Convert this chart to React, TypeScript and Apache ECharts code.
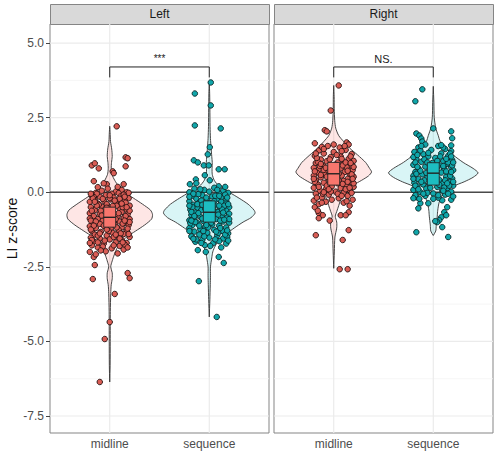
import React, { useEffect, useRef } from "react";
import * as echarts from "echarts";

// ---------- data ----------
const facets = ["Left", "Right"];
const categories = ["midline", "sequence"];
const yTicks = [-7.5, -5, -2.5, 0, 2.5, 5];
const yMinorTicks = [-6.25, -3.75, -1.25, 1.25, 3.75];
const sigLabels = ["***", "NS."];
const bracketTop = [4.2, 4.2];
const bracketTip = [3.85, 3.85];

// box stats: [q1, median, q3]
const leftMidlineBox = [-1.17, -0.84, -0.5];
const leftSequenceBox = [-1.0, -0.67, -0.29];
const rightMidlineBox = [0.24, 0.62, 1.0];
const rightSequenceBox = [0.24, 0.64, 0.99];

// violin outlines: [value, half width in category units]
const leftMidlineViolin = [
  [2.21, 0], [2.0, 0.004], [1.7, 0.008], [1.45, 0.02], [1.2, 0.025], [1.0, 0.018], [0.8, 0.015],
  [0.6, 0.022], [0.4, 0.05], [0.2, 0.09], [0.0, 0.15], [-0.2, 0.24], [-0.4, 0.33], [-0.6, 0.41],
  [-0.75, 0.43], [-0.9, 0.42], [-1.1, 0.35], [-1.3, 0.26], [-1.5, 0.17], [-1.7, 0.11], [-1.9, 0.07],
  [-2.1, 0.045], [-2.3, 0.025], [-2.5, 0.01], [-2.7, 0.025], [-2.9, 0.025], [-3.1, 0.015],
  [-3.4, 0.01], [-4.0, 0.006], [-5.0, 0.005], [-5.8, 0.004], [-6.36, 0],
];
const leftSequenceViolin = [
  [3.68, 0], [3.3, 0.004], [2.8, 0.006], [2.2, 0.008], [1.8, 0.012], [1.5, 0.018], [1.2, 0.025],
  [1.0, 0.03], [0.8, 0.028], [0.6, 0.03], [0.4, 0.05], [0.2, 0.1], [0.0, 0.2], [-0.2, 0.3],
  [-0.4, 0.39], [-0.6, 0.45], [-0.7, 0.46], [-0.85, 0.42], [-1.0, 0.34], [-1.2, 0.25], [-1.4, 0.17],
  [-1.6, 0.1], [-1.8, 0.06], [-2.0, 0.035], [-2.2, 0.025], [-2.5, 0.012], [-2.8, 0.012],
  [-3.1, 0.01], [-3.6, 0.006], [-4.18, 0],
];
const rightMidlineViolin = [
  [3.58, 0], [3.2, 0.004], [2.8, 0.005], [2.4, 0.01], [2.15, 0.02], [1.9, 0.05], [1.7, 0.1],
  [1.48, 0.16], [1.25, 0.24], [1.0, 0.32], [0.8, 0.36], [0.68, 0.38], [0.55, 0.35], [0.4, 0.28],
  [0.25, 0.2], [0.12, 0.14], [0.0, 0.11], [-0.2, 0.075], [-0.45, 0.05], [-0.65, 0.03],
  [-0.8, 0.015], [-1.0, 0.03], [-1.2, 0.03], [-1.5, 0.012], [-2.0, 0.006], [-2.55, 0],
];
const rightSequenceViolin = [
  [3.55, 0], [3.0, 0.006], [2.5, 0.01], [2.15, 0.025], [1.9, 0.05], [1.7, 0.07], [1.5, 0.12],
  [1.25, 0.2], [1.0, 0.3], [0.8, 0.4], [0.65, 0.45], [0.5, 0.4], [0.35, 0.31], [0.2, 0.2],
  [0.0, 0.11], [-0.33, 0.06], [-0.6, 0.045], [-0.8, 0.04], [-1.1, 0.03], [-1.3, 0.025], [-1.45, 0],
];

// jittered points: [jitter offset, value]
const leftMidlinePoints = [
  [0.07, 2.21], [0.16, 1.17], [0.18, 1.14], [0.16, 0.87], [-0.18, 0.9], [-0.15, 0.97], [-0.11, 0.8],
  [0.03, 0.7], [0.04, 0.64], [-0.16, 0.37], [-0.12, 0.17], [-0.03, 0.27], [0.14, 0.27], [0.1, 0.1],
  [-0.2, -2.0], [-0.16, -2.17], [-0.15, -2.44], [-0.17, -2.91], [0.18, -2.71], [0.2, -2.88],
  [0.05, -3.41], [0.0, -4.35], [-0.05, -4.92], [-0.1, -6.36],
  [-0.08, 0.05], [0.06, 0.02], [0.12, 0.08], [-0.02, 0.12], [0.17, 0.0], [-0.14, -0.02], [0.02, -0.05], [0.09, -0.03],
  [-0.18, -0.12], [-0.1, -0.15], [-0.04, -0.1], [0.04, -0.18], [0.11, -0.14], [0.19, -0.2], [-0.15, -0.25],
  [-0.06, -0.28], [0.01, -0.24], [0.08, -0.3], [0.15, -0.27], [-0.2, -0.32],
  [-0.12, -0.38], [-0.03, -0.4], [0.06, -0.36], [0.13, -0.42], [0.2, -0.45], [-0.19, -0.5], [-0.08, -0.48],
  [0.0, -0.52], [0.1, -0.55], [0.17, -0.58], [-0.15, -0.6], [-0.05, -0.58],
  [0.03, -0.64], [0.12, -0.66], [-0.2, -0.7], [-0.1, -0.72], [0.18, -0.74], [-0.16, -0.8], [0.08, -0.8],
  [-0.04, -0.84], [0.14, -0.86], [0.2, -0.9], [-0.12, -0.9], [-0.2, -0.88],
  [-0.07, -0.95], [0.1, -0.98], [0.16, -1.02], [-0.17, -1.0], [-0.1, -1.06], [0.05, -1.08], [0.19, -1.1],
  [-0.2, -1.14], [-0.05, -1.15], [0.12, -1.18], [-0.14, -1.2], [0.01, -1.22],
  [0.09, -1.26], [0.17, -1.3], [-0.18, -1.3], [-0.09, -1.33], [0.03, -1.36], [0.14, -1.4], [-0.15, -1.42],
  [-0.03, -1.45], [0.08, -1.48], [0.2, -1.5], [-0.19, -1.52],
  [-0.1, -1.55], [0.0, -1.58], [0.12, -1.6], [-0.16, -1.65], [0.06, -1.68], [0.17, -1.7], [-0.06, -1.72],
  [-0.18, -1.78], [0.1, -1.8], [-0.12, -1.85], [0.02, -1.88], [0.14, -1.92], [-0.04, -1.98], [0.08, -2.05],
  [-0.14, -2.08],
  [-0.13, -0.05], [0.0, -0.2], [0.16, -0.35], [-0.09, -0.62], [0.06, -0.9], [-0.18, -1.6], [0.13, -0.5],
  [-0.01, -1.3], [0.18, -1.22], [-0.11, -0.42], [0.1, -0.22], [-0.19, -0.95], [0.04, -1.5], [-0.07, -1.82],
  [0.15, -1.75], [0.2, -0.62], [-0.16, -0.16], [0.07, -0.45], [-0.06, -1.12], [0.11, -1.38], [-0.12, -1.68],
  [0.19, -0.02], [-0.02, -0.66], [0.14, -0.08],
  [-0.17, -0.2], [-0.07, -0.22], [0.05, -0.28], [0.15, -0.15], [-0.13, -0.45], [0.03, -0.46], [0.17, -0.5],
  [-0.18, -0.62], [0.09, -0.7], [-0.08, -0.78], [0.16, -0.8], [-0.14, -0.98], [0.02, -1.0], [0.13, -1.05],
  [-0.03, -1.25], [-0.16, -1.12], [0.07, -1.18], [0.19, -1.4], [-0.12, -1.45], [0.1, -1.55], [-0.05, -1.62],
  [-0.2, -1.7], [0.04, -1.78], [0.18, -1.85], [-0.09, -1.95], [-0.19, -0.05], [0.08, 0.18], [-0.06, 0.3],
  [0.12, -0.38], [-0.03, -0.52], [0.2, -1.0], [-0.1, -1.38], [0.13, -1.68], [-0.15, -0.32], [0.06, -1.42],
  [-0.01, -0.95], [0.15, -0.95], [-0.19, -1.25], [0.0, -0.1],
];
const leftSequencePoints = [
  [0.015, 3.68], [-0.145, 3.31], [0.015, 2.91], [-0.145, 2.24], [0.115, 2.14], [0.005, 1.51], [-0.015, 1.27],
  [-0.155, 1.07], [-0.115, 1.0], [-0.055, 0.9], [-0.005, 0.9], [0.095, 0.77], [0.155, 0.77], [-0.135, 0.43],
  [-0.045, 0.57], [0.005, 0.4], [-0.195, 0.27], [0.095, 0.2],
  [-0.105, -2.98], [0.095, -2.17], [0.145, -2.37], [0.075, -4.18], [-0.115, -1.94], [-0.045, -1.77], [-0.035, -2.0],
  [-0.15, 0.12], [-0.05, 0.08], [0.05, 0.15], [0.14, 0.05], [-0.2, 0.0], [-0.1, -0.03], [0.0, 0.02], [0.1, -0.05],
  [0.19, -0.02], [-0.17, -0.12], [-0.07, -0.1], [0.03, -0.14], [0.12, -0.18], [-0.13, -0.22], [-0.02, -0.25],
  [0.08, -0.22], [0.17, -0.28], [-0.2, -0.3], [-0.1, -0.34], [0.0, -0.36], [0.15, -0.38], [-0.16, -0.42],
  [-0.05, -0.46], [0.06, -0.44], [0.2, -0.5], [-0.12, -0.52], [0.11, -0.55], [-0.19, -0.58], [-0.08, -0.6],
  [0.17, -0.62], [-0.14, -0.68], [0.08, -0.66], [0.2, -0.72], [-0.03, -0.72], [-0.18, -0.76], [0.13, -0.78],
  [-0.09, -0.82], [0.18, -0.85], [-0.15, -0.88], [0.07, -0.9], [-0.2, -0.94], [-0.06, -0.96], [0.14, -0.98],
  [0.2, -1.02], [-0.12, -1.02], [0.03, -1.08], [-0.17, -1.1], [0.1, -1.12], [-0.04, -1.16], [0.17, -1.18],
  [-0.2, -1.2], [-0.09, -1.24], [0.05, -1.26], [0.13, -1.3], [-0.15, -1.32], [-0.02, -1.36], [0.19, -1.38],
  [-0.1, -1.42], [0.08, -1.45], [-0.18, -1.48], [0.0, -1.52], [0.14, -1.55], [-0.07, -1.6], [0.1, -1.64],
  [-0.14, -1.66], [0.04, -1.7], [0.17, -1.72], [-0.2, -0.15], [0.16, -0.08], [-0.04, -0.55], [0.01, -0.85],
  [-0.11, -0.7], [0.12, -0.32], [-0.19, -1.04], [0.09, -1.36], [-0.13, -1.58], [0.06, -0.12], [-0.08, -0.28],
  [0.2, -0.9], [-0.01, -1.18], [0.15, -0.45], [-0.17, -0.5], [0.04, -0.62], [-0.06, -1.3], [0.18, -1.5],
  [-0.11, -0.06], [0.11, -0.95],
  [-0.16, -0.05], [-0.03, -0.18], [0.1, -0.12], [0.18, -0.18], [-0.12, -0.4], [0.03, -0.5], [0.13, -0.58],
  [-0.18, -0.66], [0.09, -0.75], [-0.07, -0.88], [0.15, -0.92], [-0.14, -1.0], [0.02, -1.02], [0.11, -1.2],
  [-0.1, -1.12], [-0.2, -1.3], [0.07, -1.32], [0.16, -1.42], [-0.05, -1.48], [-0.16, -1.56], [0.06, -1.58],
  [0.19, -1.62], [-0.08, -1.7], [0.01, -1.8], [0.12, -1.85], [-0.2, -0.45], [0.19, -0.4], [-0.09, 0.1],
  [0.08, 0.08], [0.16, 0.18], [-0.13, 0.3], [0.05, -0.3], [-0.15, -0.8], [0.18, -1.28], [-0.03, -1.1],
  [0.1, -0.45], [-0.07, -0.42], [0.14, -0.68], [-0.18, -0.95],
];
const rightMidlinePoints = [
  [0.05, 3.58], [-0.03, 2.74], [-0.09, 2.08], [-0.07, 2.04], [-0.19, 1.64], [0.13, 1.67],
  [-0.19, -0.5], [-0.15, -0.7], [-0.11, -0.77], [-0.15, -0.87], [0.15, -0.67], [0.07, -0.77], [0.12, -0.77],
  [-0.18, -1.44], [0.15, -1.27], [0.09, -1.6], [0.06, -2.58], [0.14, -2.58], [-0.16, -0.62], [0.16, -0.45],
  [-0.04, -0.95],
  [-0.06, 1.55], [0.06, 1.5], [-0.15, 1.4], [0.12, 1.42], [0.0, 1.35], [-0.1, 1.3], [0.18, 1.28], [-0.19, 1.22],
  [0.07, 1.2], [-0.03, 1.18], [0.15, 1.12], [-0.13, 1.1], [0.2, 1.05], [-0.07, 1.04], [0.04, 1.0], [-0.18, 0.98],
  [0.1, 0.96], [0.17, 0.9], [-0.11, 0.9], [-0.02, 0.86], [0.13, 0.84], [-0.2, 0.82], [0.07, 0.8], [-0.15, 0.76],
  [0.19, 0.74], [-0.06, 0.72], [0.02, 0.7], [0.11, 0.68], [-0.17, 0.66], [0.16, 0.62], [-0.09, 0.6], [-0.2, 0.56],
  [0.08, 0.56], [0.2, 0.52], [-0.13, 0.5], [0.0, 0.48], [0.14, 0.45], [-0.05, 0.42], [-0.18, 0.4], [0.1, 0.38],
  [0.18, 0.34], [-0.1, 0.32], [0.04, 0.3], [-0.16, 0.26], [0.13, 0.24], [-0.02, 0.2], [0.2, 0.18], [-0.2, 0.15],
  [0.07, 0.14], [-0.08, 0.1], [0.16, 0.08], [-0.14, 0.05], [0.02, 0.02], [0.1, -0.02], [-0.18, -0.05],
  [-0.05, -0.08], [0.14, -0.12], [-0.12, -0.18], [0.05, -0.2], [0.19, -0.25], [-0.2, -0.28], [-0.08, -0.32],
  [0.1, -0.35], [-0.15, -0.4], [0.15, 1.6], [-0.12, 1.52], [0.03, 1.25], [-0.16, 1.02], [0.09, 0.9],
  [-0.04, 0.62], [0.12, 0.1], [-0.1, 0.75], [0.05, 0.4], [-0.19, 0.35], [0.18, 0.6], [-0.03, 0.02], [0.08, 1.12],
  [-0.14, 0.88], [0.2, 0.3], [-0.07, 0.22],
  [-0.1, 1.45], [0.08, 1.38], [0.17, 1.2], [-0.17, 1.15], [-0.04, 1.1], [0.12, 1.0], [-0.13, 0.95], [0.02, 0.92],
  [0.2, 0.85], [-0.08, 0.82], [-0.19, 0.7], [0.14, 0.72], [0.05, 0.62], [-0.13, 0.58], [0.19, 0.45], [-0.03, 0.35],
  [0.09, 0.28], [-0.15, 0.18], [0.16, 0.15], [-0.05, 0.1], [0.04, -0.05], [-0.11, -0.05], [0.18, -0.02],
  [-0.17, -0.18], [0.08, -0.12], [-0.02, -0.25], [0.13, -0.3], [-0.12, -0.35], [0.0, 1.6], [-0.18, 1.3],
  [0.11, 1.55], [-0.07, 0.52], [0.17, 0.98], [-0.2, 0.45], [0.03, 0.52], [0.14, 0.35], [-0.1, 0.0],
];
const rightSequencePoints = [
  [-0.11, 3.45], [-0.18, 3.05], [0.0, 2.14], [0.18, 2.04], [0.19, 1.81], [0.18, 1.57], [-0.17, 1.97],
  [-0.14, 1.9], [-0.12, 1.8], [-0.11, 1.7],
  [-0.17, -0.17], [-0.13, -0.37], [-0.15, -0.54], [-0.05, -0.37], [0.09, -0.27], [0.18, -0.25], [0.14, -0.5],
  [0.11, -0.67], [0.13, -0.77], [0.08, -0.84], [0.06, -0.94], [0.04, -1.0], [-0.17, -1.34], [0.09, -1.17],
  [0.15, -1.5], [0.02, -0.97],
  [-0.08, 1.6], [0.05, 1.55], [-0.15, 1.5], [0.12, 1.45], [-0.02, 1.42], [0.18, 1.38], [-0.19, 1.35], [0.08, 1.3],
  [-0.1, 1.28], [0.15, 1.22], [-0.05, 1.2], [0.02, 1.15], [-0.17, 1.12], [0.19, 1.08], [0.1, 1.05], [-0.12, 1.02],
  [-0.01, 0.98], [0.14, 0.95], [-0.2, 0.92], [0.06, 0.9], [-0.08, 0.86], [0.18, 0.84], [-0.15, 0.8], [0.11, 0.78],
  [0.2, 0.74], [-0.04, 0.72], [-0.18, 0.68], [0.08, 0.66], [0.16, 0.6], [-0.11, 0.6], [-0.2, 0.55], [0.13, 0.52],
  [-0.06, 0.5], [0.19, 0.46], [-0.15, 0.44], [0.06, 0.42], [-0.02, 0.38], [0.16, 0.35], [-0.19, 0.32], [0.1, 0.3],
  [-0.1, 0.26], [0.2, 0.22], [-0.16, 0.2], [0.04, 0.18], [0.14, 0.14], [-0.07, 0.12], [-0.2, 0.08], [0.09, 0.06],
  [0.18, 0.02], [-0.13, 0.0], [0.0, -0.04], [0.12, -0.08], [-0.18, -0.1], [-0.08, -0.12], [0.2, -0.14],
  [0.05, -0.18], [-0.14, -0.22], [0.15, 1.0], [-0.13, 1.4], [0.03, 0.8], [0.17, 0.55], [-0.09, 0.4], [0.11, 0.16],
  [-0.17, 0.62], [0.07, 1.2], [-0.04, 0.28], [0.19, 0.9], [-0.2, 1.18], [0.13, 0.7], [-0.06, -0.02],
  [-0.12, 1.55], [0.1, 1.5], [0.17, 1.3], [-0.16, 1.25], [-0.05, 1.32], [0.04, 1.05], [-0.09, 1.1], [0.13, 1.12],
  [-0.18, 1.0], [0.2, 1.0], [-0.03, 0.9], [0.1, 0.88], [-0.13, 0.72], [0.18, 0.68], [-0.07, 0.65], [0.02, 0.6],
  [-0.2, 0.45], [0.12, 0.4], [0.2, 0.35], [-0.12, 0.35], [0.06, 0.25], [-0.18, 0.22], [0.16, 0.22], [-0.03, 0.15],
  [0.1, 0.05], [-0.15, 0.1], [0.05, -0.1], [-0.1, -0.05], [0.15, -0.05], [-0.2, -0.2], [0.0, -0.22], [0.08, 1.58],
  [-0.16, 0.85], [0.18, 1.2], [-0.06, 1.0], [0.14, 0.3],
];

const violins = [
  [leftMidlineViolin, leftSequenceViolin],
  [rightMidlineViolin, rightSequenceViolin],
];
const boxes = [
  [leftMidlineBox, leftSequenceBox],
  [rightMidlineBox, rightSequenceBox],
];
const points = [
  [leftMidlinePoints, leftSequencePoints],
  [rightMidlinePoints, rightSequencePoints],
];

// ---------- styling ----------
const FONT = "'Liberation Sans', Arial, Helvetica, sans-serif";
const Y_MIN = -8.07;
const Y_MAX = 5.64;
const X_MIN = 0.4;
const X_MAX = 2.6;
const violinFill = ["rgba(248,118,109,0.18)", "rgba(0,191,196,0.15)"];
const pointFill = ["#DA5D55", "#10A6AA"];
const pointStroke = ["#241010", "#0a2626"];
const boxFill = ["#F8766D", "#1DBDC1"];
const grids = [
  { left: 50, top: 24, width: 219, height: 409 },
  { left: 274, top: 24, width: 219, height: 409 },
];
const BORDER = "#858585";

function buildOption() {
  const series: any[] = [];
  facets.forEach((_, fi) => {
    // grid lines
    const gridData: number[][] = [
      ...yTicks.map((v) => [0, v]),
      ...yMinorTicks.map((v) => [1, v]),
      [2, 1],
      [2, 2],
    ];
    series.push({
      type: "custom",
      xAxisIndex: fi,
      yAxisIndex: fi,
      silent: true,
      z: 1,
      data: gridData,
      renderItem: (_p: any, api: any) => {
        const kind = api.value(0);
        const v = api.value(1);
        let a, b;
        if (kind === 2) {
          a = api.coord([v, Y_MIN]);
          b = api.coord([v, Y_MAX]);
        } else {
          a = api.coord([X_MIN, v]);
          b = api.coord([X_MAX, v]);
        }
        return {
          type: "line",
          shape: { x1: a[0], y1: a[1], x2: b[0], y2: b[1] },
          style: { stroke: kind === 1 ? "#F4F4F4" : "#EBEBEB", lineWidth: kind === 1 ? 0.8 : 1.2 },
        };
      },
    });
    // violins
    series.push({
      type: "custom",
      xAxisIndex: fi,
      yAxisIndex: fi,
      silent: true,
      z: 2,
      data: [[1], [2]],
      renderItem: (_p: any, api: any) => {
        const c = api.value(0);
        const prof = violins[fi][c - 1];
        const right = prof.map(([y, w]) => api.coord([c + w, y]));
        const left = prof
          .slice()
          .reverse()
          .map(([y, w]) => api.coord([c - w, y]));
        return {
          type: "polygon",
          shape: { points: [...right, ...left], smooth: 0.25 },
          style: { fill: violinFill[c - 1], stroke: "#333333", lineWidth: 0.9 },
        };
      },
    });
    // zero line
    series.push({
      type: "custom",
      xAxisIndex: fi,
      yAxisIndex: fi,
      silent: true,
      z: 3,
      data: [[0]],
      renderItem: (_p: any, api: any) => {
        const a = api.coord([X_MIN, api.value(0)]);
        const b = api.coord([X_MAX, api.value(0)]);
        return {
          type: "line",
          shape: { x1: a[0], y1: a[1], x2: b[0], y2: b[1] },
          style: { stroke: "#4a4a4a", lineWidth: 1.3 },
        };
      },
    });
    // points
    categories.forEach((cat, ci) => {
      series.push({
        type: "scatter",
        name: facets[fi] + " " + cat,
        xAxisIndex: fi,
        yAxisIndex: fi,
        silent: true,
        z: 4,
        symbol: "circle",
        symbolSize: 5.5,
        itemStyle: { color: pointFill[ci], borderColor: pointStroke[ci], borderWidth: 0.9, opacity: 1 },
        data: points[fi][ci].map(([dx, v]) => [ci + 1 + dx, v]),
      });
    });
    // boxes
    series.push({
      type: "custom",
      xAxisIndex: fi,
      yAxisIndex: fi,
      silent: true,
      z: 5,
      data: boxes[fi].map((b, ci) => [ci + 1, b[0], b[1], b[2]]),
      renderItem: (_p: any, api: any) => {
        const c = api.value(0);
        const q1 = api.value(1);
        const med = api.value(2);
        const q3 = api.value(3);
        const tl = api.coord([c - 0.06, q3]);
        const br = api.coord([c + 0.06, q1]);
        const ml = api.coord([c - 0.06, med]);
        const mr = api.coord([c + 0.06, med]);
        return {
          type: "group",
          children: [
            {
              type: "rect",
              shape: { x: tl[0], y: tl[1], width: br[0] - tl[0], height: br[1] - tl[1] },
              style: { fill: boxFill[c - 1], stroke: "#222", lineWidth: 0.9 },
            },
            {
              type: "line",
              shape: { x1: ml[0], y1: ml[1], x2: mr[0], y2: mr[1] },
              style: { stroke: "#222", lineWidth: 1.4 },
            },
          ],
        };
      },
    });
    // significance bracket
    series.push({
      type: "custom",
      xAxisIndex: fi,
      yAxisIndex: fi,
      silent: true,
      z: 6,
      data: [[1, 2, bracketTop[fi], bracketTip[fi]]],
      renderItem: (_p: any, api: any) => {
        const x1 = api.value(0);
        const x2 = api.value(1);
        const top = api.value(2);
        const tip = api.value(3);
        const p1 = api.coord([x1, tip]);
        const p2 = api.coord([x1, top]);
        const p3 = api.coord([x2, top]);
        const p4 = api.coord([x2, tip]);
        const mid = api.coord([(x1 + x2) / 2, top]);
        const isStars = sigLabels[fi] === "***";
        return {
          type: "group",
          children: [
            {
              type: "polyline",
              shape: { points: [p1, p2, p3, p4] },
              style: { stroke: "#222", lineWidth: 1, fill: "none" },
            },
            {
              type: "text",
              x: mid[0],
              y: mid[1] - (isStars ? 3 : 2),
              style: {
                text: sigLabels[fi],
                fill: "#222",
                fontSize: isStars ? 10 : 11,
                fontFamily: FONT,
                align: "center",
                verticalAlign: "bottom",
              },
            },
          ],
        };
      },
    });
  });

  const xAxes = facets.map((_, fi) => ({
    type: "value",
    gridIndex: fi,
    min: X_MIN,
    max: X_MAX,
    axisLine: { show: false },
    splitLine: { show: false },
    axisTick: { show: true, customValues: [1, 2], length: 4, lineStyle: { color: "#444", width: 1 } },
    axisLabel: {
      show: true,
      customValues: [1, 2],
      formatter: (v: number) => categories[Math.round(v) - 1] || "",
      color: "#4D4D4D",
      fontSize: 12,
      fontFamily: FONT,
      margin: 5,
    },
  }));
  const yAxes = facets.map((_, fi) => ({
    type: "value",
    gridIndex: fi,
    min: Y_MIN,
    max: Y_MAX,
    axisLine: { show: false },
    splitLine: { show: false },
    axisTick: fi === 0
      ? { show: true, customValues: yTicks, length: 4, lineStyle: { color: "#444", width: 1 } }
      : { show: false },
    axisLabel: fi === 0
      ? {
          show: true,
          customValues: yTicks,
          formatter: (v: number) => v.toFixed(1),
          color: "#4D4D4D",
          fontSize: 12,
          fontFamily: FONT,
          margin: 6,
        }
      : { show: false },
    name: fi === 0 ? "LI z-score" : "",
    nameLocation: "middle",
    nameGap: 31,
    nameRotate: 90,
    nameTextStyle: { color: "#111", fontSize: 14, fontFamily: FONT },
  }));

  const graphic: any[] = [];
  facets.forEach((f, fi) => {
    const g = grids[fi];
    graphic.push({
      type: "rect",
      left: g.left,
      top: 4,
      shape: { width: g.width, height: 20 },
      style: { fill: "#D9D9D9", stroke: BORDER, lineWidth: 1 },
      silent: true,
    });
    graphic.push({
      type: "text",
      x: g.left + g.width / 2,
      y: 14,
      style: {
        text: f,
        fill: "#1A1A1A",
        fontSize: 12,
        fontFamily: FONT,
        align: "center",
        verticalAlign: "middle",
      },
      silent: true,
    });
  });

  return {
    animation: false,
    backgroundColor: "#FFFFFF",
    grid: grids.map((g) => ({
      ...g,
      show: true,
      backgroundColor: "#FFFFFF",
      borderColor: BORDER,
      borderWidth: 1,
      containLabel: false,
      outerBoundsMode: "none",
    })),
    xAxis: xAxes,
    yAxis: yAxes,
    series,
    graphic,
  };
}

export default function App() {
  const ref = useRef<HTMLDivElement>(null);
  useEffect(() => {
    if (!ref.current) return;
    const chart = echarts.init(ref.current, null, { renderer: "svg" });
    chart.setOption(buildOption() as any);
    return () => chart.dispose();
  }, []);
  return (
    <div
      ref={ref}
      style={{ position: "absolute", left: 0, top: 0, width: 500, height: 458, background: "#fff" }}
    />
  );
}
